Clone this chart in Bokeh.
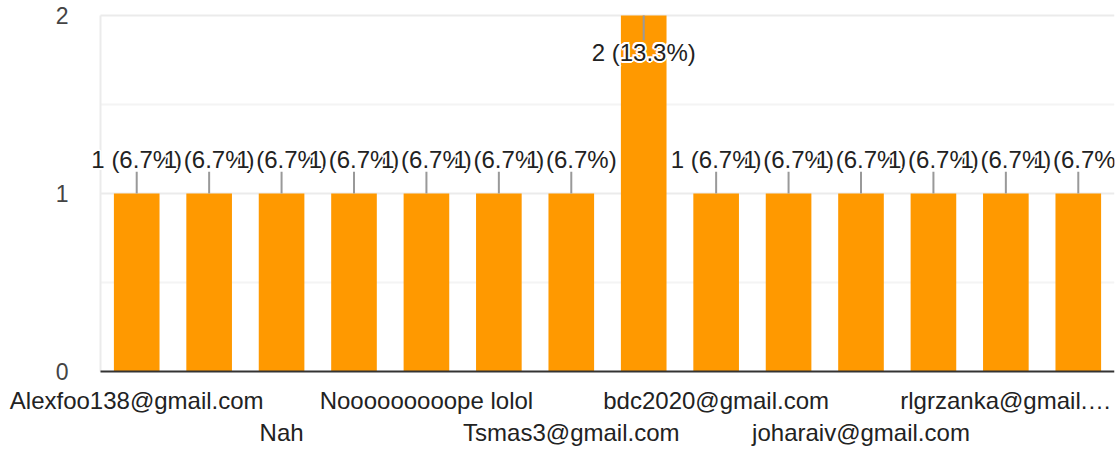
from bokeh.plotting import figure
from bokeh.models import ColumnDataSource, FixedTicker, Label
from bokeh.embed import file_html
from bokeh.resources import INLINE

# ---- data ----
labels = ["Alexfoo138@gmail.com", "", "Nah", "", "Nooooooooope lolol", "",
          "Tsmas3@gmail.com", "", "bdc2020@gmail.com", "", "joharaiv@gmail.com",
          "", "rlgrzanka@gmail.…", ""]
values = [1, 1, 1, 1, 1, 1, 1, 2, 1, 1, 1, 1, 1, 1]
total = 15
y_ticks = [0, 1, 2]
y_minor = [0.5, 1.5]

FONT = "Liberation Sans"
FS = "24px"
n = len(values)
xs = list(range(n))
ymax = 2

# layout (pixels)
W, H = 1115, 448
FL, FR = 84, 1114          # frame left / right
PLOT_L = 100               # where the category band starts
BT, BB = 13, 72
PADPX = 2
frame_h = H - BT - BB
px = ymax / (frame_h - 2 * PADPX)          # data units per pixel (y)
xpx = n / (FR - PLOT_L)                    # data units per pixel (x)
x_start = -0.5 - (PLOT_L - FL) * xpx

texts, lab_y, seg0, seg1 = [], [], [], []
for v in values:
    texts.append(f"{v} ({v / total * 100:.1f}%)")
    if v < ymax:
        seg0.append(v)
        seg1.append(v + 22 * px)
        lab_y.append(v + 34 * px)
    else:
        seg0.append(v)
        seg1.append(v - 25 * px)
        lab_y.append(v - 37 * px)

src = ColumnDataSource(dict(x=xs, top=values, text=texts, ly=lab_y, s0=seg0, s1=seg1))

p = figure(width=W, height=H, output_backend="svg", toolbar_location=None,
           x_range=(x_start, n - 0.5), y_range=(-PADPX * px, ymax + PADPX * px),
           min_border_left=FL, min_border_right=W - FR, min_border_top=BT, min_border_bottom=BB)
p.outline_line_color = None
p.background_fill_color = "white"
p.border_fill_color = "white"
p.xgrid.grid_line_color = None
p.ygrid.grid_line_color = None

# grid lines over the category band only
gy = [t for t in y_ticks if t > 0] + y_minor
gcol = ["#ebebeb"] * len([t for t in y_ticks if t > 0]) + ["#f4f4f4"] * len(y_minor)
p.segment(x0=[-0.5] * len(gy), x1=[n - 0.5] * len(gy), y0=gy, y1=gy, line_color=gcol, line_width=2)
p.segment(x0=[-0.5], x1=[-0.5], y0=[0], y1=[ymax], line_color="#ebebeb", line_width=2)

p.vbar(x="x", top="top", width=0.63, bottom=0, source=src, fill_color="#ff9900", line_color=None)
p.segment(x0="x", y0="s0", x1="x", y1="s1", source=src, line_color="#999999", line_width=2)
# baseline
p.segment(x0=[-0.5], x1=[n - 0.5], y0=[0], y1=[0], line_color="#333333", line_width=2)

# labels drawn one after another, each with a white halo
halo = [(-2, 0), (2, 0), (0, -2), (0, 2), (-1.5, -1.5), (1.5, 1.5), (-1.5, 1.5), (1.5, -1.5)]
for x, y, t in zip(xs, lab_y, texts):
    for dx, dy in halo:
        p.add_layout(Label(x=x, y=y, text=t, text_align="center", text_baseline="middle",
                           x_offset=dx, y_offset=dy, text_font=FONT, text_font_size=FS,
                           text_color="white"))
    p.add_layout(Label(x=x, y=y, text=t, text_align="center", text_baseline="middle",
                       text_font=FONT, text_font_size=FS, text_color="#222222"))

# y axis
p.yaxis.ticker = FixedTicker(ticks=y_ticks)
p.yaxis.axis_line_color = None
p.yaxis.major_tick_line_color = None
p.yaxis.minor_tick_line_color = None
p.yaxis.major_label_text_font = FONT
p.yaxis.major_label_text_font_size = "23px"
p.yaxis.major_label_text_color = "#444444"
p.yaxis.major_label_standoff = 10

# x axis
p.xaxis.ticker = FixedTicker(ticks=xs)
overrides = {}
for i, lab in enumerate(labels):
    overrides[i] = lab if (i // 2) % 2 == 0 else "\n" + lab
p.xaxis.major_label_overrides = overrides
p.xaxis.axis_line_color = None
p.xaxis.major_tick_line_color = None
p.xaxis.minor_tick_line_color = None
p.xaxis.major_label_text_font = FONT
p.xaxis.major_label_text_font_size = FS
p.xaxis.major_label_text_line_height = 1.2
p.xaxis.major_label_text_color = "#222222"
p.xaxis.major_label_standoff = 7

open("out.html", "w").write(file_html(p, INLINE))
